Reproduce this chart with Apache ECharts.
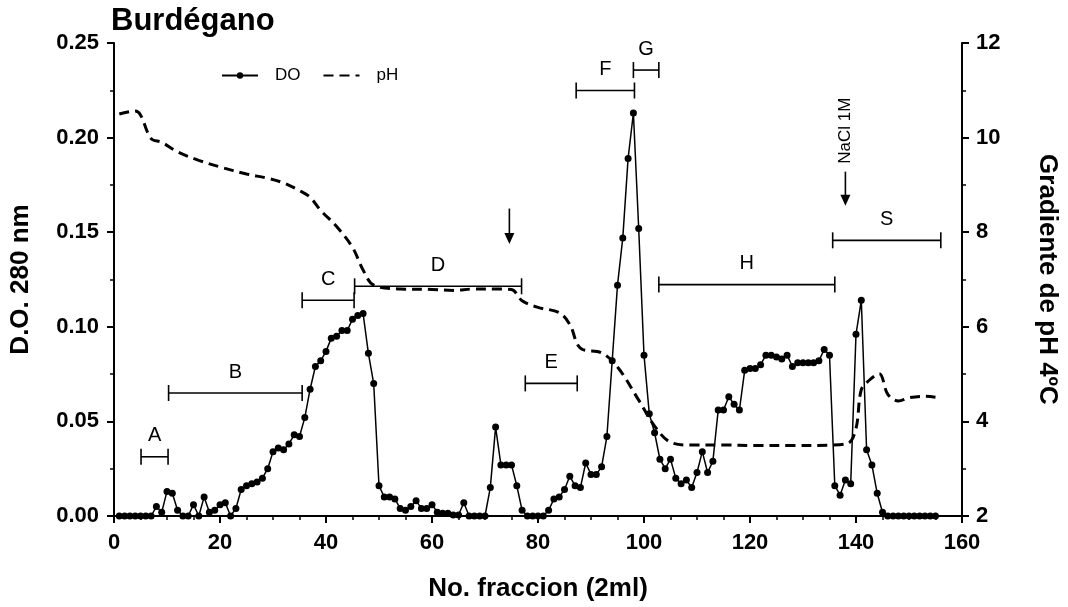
<!DOCTYPE html>
<html>
<head>
<meta charset="utf-8">
<script src="https://cdn.jsdelivr.net/npm/echarts@6/dist/echarts.min.js"></script>
<style>
  html, body { margin: 0; padding: 0; background: #fff; }
  #chart { width: 1068px; height: 607px; }
</style>
</head>
<body>
<div id="chart"></div>
<script>
// D.O. 280 nm, fractions 1..155
const doValues = [
  0, 0, 0, 0, 0, 0, 0, 0.005, 0.002, 0.013,
  0.012, 0.003, 0, 0, 0.006, 0, 0.010, 0.002, 0.003, 0.006,
  0.007, 0, 0.004, 0.014, 0.016, 0.017, 0.018, 0.020, 0.025, 0.034,
  0.036, 0.035, 0.038, 0.043, 0.042, 0.052, 0.067, 0.079, 0.082, 0.087,
  0.094, 0.095, 0.098, 0.098, 0.104, 0.106, 0.107, 0.086, 0.070, 0.016,
  0.010, 0.010, 0.009, 0.004, 0.003, 0.005, 0.008, 0.004, 0.004, 0.006,
  0.002, 0.0014, 0.0014, 0.0005, 0.0005, 0.007, 0, 0, 0, 0,
  0.015, 0.047, 0.027, 0.027, 0.027, 0.016, 0.003, 0, 0, 0,
  0, 0.003, 0.009, 0.010, 0.014, 0.021, 0.016, 0.015, 0.028, 0.022,
  0.022, 0.026, 0.042, 0.082, 0.122, 0.147, 0.189, 0.213, 0.152, 0.085,
  0.054, 0.044, 0.030, 0.025, 0.030, 0.020, 0.017, 0.019, 0.015, 0.023,
  0.034, 0.023, 0.029, 0.056, 0.056, 0.063, 0.059, 0.056, 0.077, 0.078,
  0.078, 0.080, 0.085, 0.085, 0.084, 0.083, 0.085, 0.079, 0.081, 0.081,
  0.081, 0.081, 0.082, 0.088, 0.085, 0.016, 0.011, 0.019, 0.017, 0.096,
  0.114, 0.035, 0.027, 0.012, 0.002, 0, 0, 0, 0, 0,
  0, 0, 0, 0, 0
];

// pH gradient
const phFrac = [1, 4, 5, 7, 9, 12, 16, 20, 25, 29, 32, 35, 37, 39, 42, 45, 47, 49, 54, 60, 64, 68, 72, 75, 77, 80, 84, 86, 88, 92, 95, 99, 102, 105, 109, 115, 121, 128, 135, 138.5, 140, 141, 142.5, 144.4, 146, 148, 150, 153, 155];
const phValues = [10.50, 10.56, 10.48, 9.98, 9.90, 9.70, 9.52, 9.38, 9.23, 9.14, 9.04, 8.88, 8.74, 8.46, 8.12, 7.68, 7.20, 6.88, 6.80, 6.79, 6.77, 6.80, 6.80, 6.79, 6.55, 6.41, 6.30, 6.05, 5.55, 5.45, 5.15, 4.45, 3.90, 3.56, 3.50, 3.50, 3.49, 3.49, 3.50, 3.54, 3.85, 4.67, 4.87, 5.01, 4.57, 4.43, 4.50, 4.53, 4.51];

// fraction pools
const poolNames = ['A', 'B', 'C', 'D', 'E', 'F', 'G', 'H', 'S'];
const poolFrom = [5.1, 10.3, 35.5, 45.4, 77.6, 87.2, 98, 102.8, 135.6];
const poolTo = [10.2, 35.5, 45.3, 76.9, 87.4, 98.2, 102.8, 136, 156];
const poolLevel = [0.0313, 0.065, 0.114, 0.1214, 0.0701, 0.2249, 0.2357, 0.1223, 0.1457];

// arrows
const arrowFrac = [74.6, 138];
const arrowTop = [0.1625, 0.182];
const arrowBottom = [0.1437, 0.164];
const arrowNote = ['', 'NaCl 1M'];

const xTicks = [0, 20, 40, 60, 80, 100, 120, 140, 160];

const FONT = '"Liberation Sans", Arial, sans-serif';

const doData = doValues.map((v, i) => [i + 1, v]);
const phData = phFrac.map((f, i) => [f, phValues[i]]);
const poolData = poolNames.map((n, i) => [poolFrom[i], poolTo[i], poolLevel[i]]);
const arrowData = arrowFrac.map((f, i) => [f, arrowTop[i], arrowBottom[i]]);

const chart = echarts.init(document.getElementById('chart'));

function axisBase() {
  return {
    axisLine: { show: true, lineStyle: { color: '#000', width: 2 } },
    axisTick: { show: true, length: 7, lineStyle: { color: '#000', width: 2 } },
    minorTick: { show: true, length: 4, lineStyle: { color: '#000', width: 1.5 } },
    splitLine: { show: false },
    axisLabel: { color: '#000', fontSize: 22, fontWeight: 'bold', fontFamily: FONT },
    nameTextStyle: { color: '#000', fontSize: 26, fontWeight: 'bold', fontFamily: FONT }
  };
}

function renderPool(params, api) {
  const a = api.coord([api.value(0), api.value(2)]);
  const b = api.coord([api.value(1), api.value(2)]);
  const cap = 8;
  const st = { stroke: '#000', lineWidth: 1.6 };
  return {
    type: 'group',
    children: [
      { type: 'line', shape: { x1: a[0], y1: a[1], x2: b[0], y2: b[1] }, style: st },
      { type: 'line', shape: { x1: a[0], y1: a[1] - cap, x2: a[0], y2: a[1] + cap }, style: st },
      { type: 'line', shape: { x1: b[0], y1: b[1] - cap, x2: b[0], y2: b[1] + cap }, style: st },
      {
        type: 'text',
        style: {
          text: poolNames[params.dataIndex],
          x: (a[0] + b[0]) / 2, y: a[1] - 11,
          align: 'center', verticalAlign: 'bottom',
          fontSize: 20, fontFamily: FONT, fill: '#000'
        }
      }
    ]
  };
}

function renderArrow(params, api) {
  const t = api.coord([api.value(0), api.value(1)]);
  const b = api.coord([api.value(0), api.value(2)]);
  const children = [
    { type: 'line', shape: { x1: t[0], y1: t[1], x2: b[0], y2: b[1] - 8 }, style: { stroke: '#000', lineWidth: 1.6 } },
    { type: 'polygon', shape: { points: [[b[0] - 5, b[1] - 11], [b[0] + 5, b[1] - 11], [b[0], b[1]]] }, style: { fill: '#000' } }
  ];
  const note = arrowNote[params.dataIndex];
  if (note) {
    children.push({
      type: 'text',
      x: t[0], y: t[1] - 8,
      rotation: Math.PI / 2,
      style: {
        text: note, align: 'left', verticalAlign: 'middle',
        fontSize: 17, fontFamily: FONT, fill: '#000'
      }
    });
  }
  return { type: 'group', children };
}

const option = {
  animation: false,
  backgroundColor: '#fff',
  title: {
    text: 'Burdégano',
    left: 106, top: 1,
    textStyle: { color: '#000', fontSize: 31, fontWeight: 'bold', fontFamily: FONT }
  },
  legend: {
    left: 216, top: 62,
    itemWidth: 36, itemHeight: 8, itemGap: 22,
    textStyle: { color: '#000', fontSize: 17, fontFamily: FONT, padding: [0, 0, 0, 12] },
    data: [
      { name: 'DO' },
      { name: 'pH', itemStyle: { opacity: 0 } }
    ]
  },
  grid: { left: 106, right: 95, top: 43, bottom: 77, containLabel: false },
  xAxis: Object.assign(axisBase(), {
    type: 'value', min: 0, max: 160, interval: 20,
    minorTick: { show: true, splitNumber: 4, length: 4, lineStyle: { color: '#000', width: 1.5 } },
    axisLine: { show: true, onZero: false, lineStyle: { color: '#000', width: 2 } },
    name: 'No. fraccion (2ml)', nameLocation: 'middle', nameGap: 60,
    axisLabel: { color: '#000', fontSize: 22, fontWeight: 'bold', fontFamily: FONT, margin: 16,
      formatter: v => xTicks.indexOf(v) >= 0 ? String(v) : '' }
  }),
  yAxis: [
    Object.assign(axisBase(), {
      type: 'value', min: 0, max: 0.25, interval: 0.05, position: 'left',
      minorTick: { show: true, splitNumber: 2, length: 4, lineStyle: { color: '#000', width: 1.5 } },
      name: 'D.O. 280 nm', nameLocation: 'middle', nameGap: 80, nameRotate: 90,
      axisLabel: { color: '#000', fontSize: 22, fontWeight: 'bold', fontFamily: FONT, margin: 15,
        formatter: v => v.toFixed(2) }
    }),
    Object.assign(axisBase(), {
      type: 'value', min: 2, max: 12, interval: 2, position: 'right',
      minorTick: { show: true, splitNumber: 2, length: 4, lineStyle: { color: '#000', width: 1.5 } },
      name: 'Gradiente de pH 4ºC', nameLocation: 'middle', nameGap: 72, nameRotate: -90,
      axisLabel: { color: '#000', fontSize: 22, fontWeight: 'bold', fontFamily: FONT, margin: 14 }
    })
  ],
  series: [
    {
      name: 'DO', type: 'line', yAxisIndex: 0,
      data: doData,
      symbol: 'circle', symbolSize: 7,
      itemStyle: { color: '#000' },
      lineStyle: { color: '#000', width: 1.5 },
      z: 3
    },
    {
      name: 'pH', type: 'line', yAxisIndex: 1,
      data: phData,
      showSymbol: false, symbol: 'none', smooth: 0.35,
      itemStyle: { color: '#000' },
      lineStyle: { color: '#000', width: 3, type: [10, 6] },
      z: 2
    },
    {
      name: 'pools', type: 'custom', yAxisIndex: 0,
      data: poolData,
      encode: { x: [0, 1], y: 2 },
      renderItem: renderPool,
      silent: true, z: 4
    },
    {
      name: 'arrows', type: 'custom', yAxisIndex: 0,
      data: arrowData,
      encode: { x: 0, y: [1, 2] },
      renderItem: renderArrow,
      silent: true, z: 4
    }
  ]
};

chart.setOption(option);
</script>
</body>
</html>
